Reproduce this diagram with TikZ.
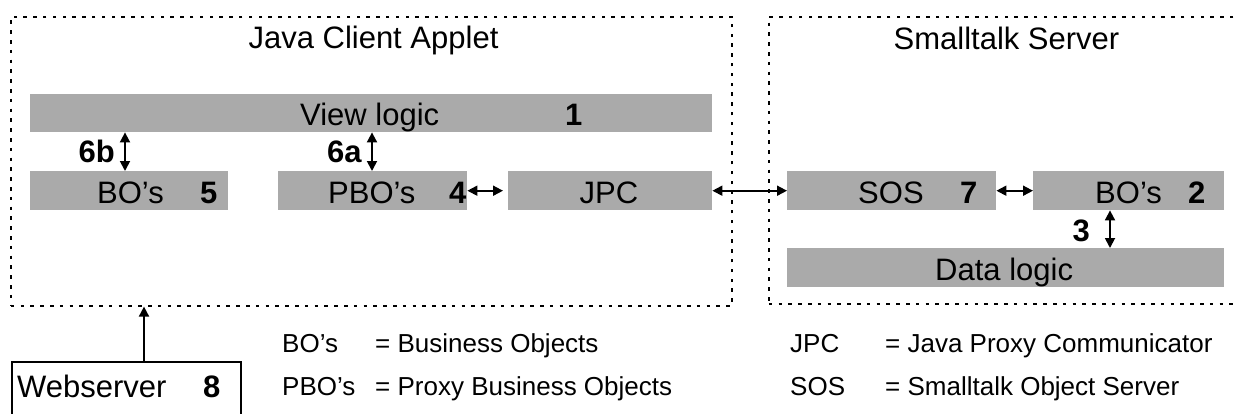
\documentclass[tikz,border=0pt]{standalone}
\usepackage{fontspec}
\setmainfont{Liberation Sans}
\usetikzlibrary{arrows.meta}
\definecolor{barfill}{RGB}{170,170,170}
\begin{document}
\begin{tikzpicture}[x=1pt,y=-1pt,
  bar/.style={fill=barfill, draw=none, inner sep=0pt, anchor=north west},
  big/.style={font=\fontsize{31}{36}\selectfont, inner sep=0pt, anchor=base west},
  leg/.style={font=\fontsize{26}{30}\selectfont, inner sep=0pt, anchor=base west},
  dotbox/.style={draw, line width=1.6pt, dash pattern=on 3.5pt off 6.3pt, inner sep=0pt, anchor=north west},
  solidbox/.style={draw, line width=1.8pt, inner sep=0pt, anchor=north west},
  twoway/.style={line width=1.8pt, {Triangle[length=10pt,width=10pt]}-{Triangle[length=10pt,width=10pt]}},
  oneway/.style={line width=1.8pt, -{Triangle[length=10pt,width=10pt]}}]
\useasboundingbox (0,0) rectangle (1235,413);
\clip (0,0) rectangle (1235,413);
\fill[white] (0,0) rectangle (1235,413);

% containers
\node[dotbox, minimum width=721pt, minimum height=289pt] (client) at (10,16) {};
\node[dotbox, minimum width=520pt, minimum height=287pt] (server) at (768,16) {};
\node[solidbox, minimum width=229pt, minimum height=90pt] (web) at (11,361) {};

% titles
\node[big, anchor=base] (tclient) at (373.5,48) {Java Client Applet};
\node[big, anchor=base] (tserver) at (1006.5,49) {Smalltalk Server};

% bars
\node[bar, minimum width=682pt, minimum height=38pt] (view) at (30,94) {};
\node[bar, minimum width=198pt, minimum height=39pt] (bo5) at (30,171) {};
\node[bar, minimum width=189pt, minimum height=39pt] (pbo) at (278,171) {};
\node[bar, minimum width=204pt, minimum height=39pt] (jpc) at (508,171) {};
\node[bar, minimum width=209pt, minimum height=39pt] (sos) at (787,171) {};
\node[bar, minimum width=191pt, minimum height=39pt] (bo2) at (1033,171) {};
\node[bar, minimum width=437pt, minimum height=39pt] (data) at (787,248) {};

% bar texts
\node[big] (viewt) at (300,125) {View logic};
\node[big] (viewn) at (565,125) {\textbf{1}};
\node[big] (bo5t) at (97,203) {BO’s};
\node[big] (bo5n) at (200,203) {\textbf{5}};
\node[big] (pbot) at (328,203) {PBO’s};
\node[big] (pbon) at (449,203) {\textbf{4}};
\node[big, anchor=base] (jpct) at (609,203) {JPC};
\node[big] (sost) at (858,203) {SOS};
\node[big] (sosn) at (960,203) {\textbf{7}};
\node[big] (bo2t) at (1095,203) {BO’s};
\node[big] (bo2n) at (1188,203) {\textbf{2}};
\node[big] (datat) at (935,280) {Data logic};

% arrow labels
\node[big, anchor=base east] (l6b) at (115,162) {\textbf{6b}};
\node[big, anchor=base east] (l6a) at (362,162) {\textbf{6a}};
\node[big, anchor=base east] (l3) at (1090,241) {\textbf{3}};

% webserver
\node[big] (webt) at (17,397) {Webserver};
\node[big] (webn) at (203,397) {\textbf{8}};

% legend
\node[leg] (k1) at (282,352) {BO’s};
\node[leg] (v1) at (375,352) {= Business Objects};
\node[leg] (k2) at (282,395) {PBO’s};
\node[leg] (v2) at (375,395) {= Proxy Business Objects};
\node[leg] (k3) at (790,352) {JPC};
\node[leg] (v3) at (885,352) {= Java Proxy Communicator};
\node[leg] (k4) at (790,395) {SOS};
\node[leg] (v4) at (885,395) {= Smalltalk Object Server};

% connectors
\coordinate (x6b) at (125,0);
\coordinate (x6a) at (372,0);
\coordinate (x3) at (1110,0);
\coordinate (x8) at (144,0);
\coordinate (xr) at (503,0);
\draw[twoway] (x6b |- view.south) -- (x6b |- bo5.north);
\draw[twoway] (x6a |- view.south) -- (x6a |- pbo.north);
\draw[twoway] (pbo.east) -- (xr |- jpc.west);
\draw[twoway] (jpc.east) -- (sos.west);
\draw[twoway] (sos.east) -- (bo2.west);
\draw[twoway] (x3 |- bo2.south) -- (x3 |- data.north);
\draw[oneway] (x8 |- web.north) -- (x8 |- client.south);
\end{tikzpicture}
\end{document}
